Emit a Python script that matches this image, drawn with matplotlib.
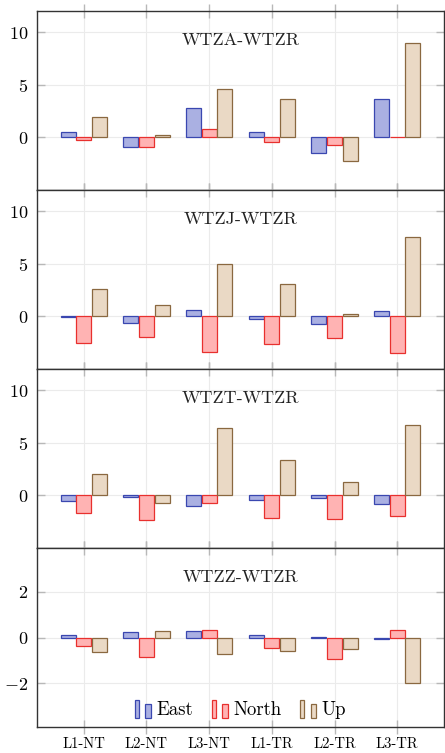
import matplotlib
matplotlib.use("Agg")
import matplotlib.pyplot as plt
import numpy as np
from matplotlib.patches import Rectangle
from matplotlib.legend_handler import HandlerBase

plt.rcParams['font.family'] = 'serif'
plt.rcParams['font.serif'] = ['cmr10', 'DejaVu Serif']
plt.rcParams['mathtext.fontset'] = 'cm'
plt.rcParams['axes.formatter.use_mathtext'] = True

categories = ["L1-NT", "L2-NT", "L3-NT", "L1-TR", "L2-TR", "L3-TR"]
panel_titles = ["WTZA-WTZR", "WTZJ-WTZR", "WTZT-WTZR", "WTZZ-WTZR"]

east_wtza = [0.51, -0.95, 2.78, 0.50, -1.49, 3.64]
north_wtza = [-0.25, -0.92, 0.76, -0.50, -0.79, -0.03]
up_wtza = [1.90, 0.16, 4.59, 3.67, -2.28, 8.96]

east_wtzj = [-0.10, -0.63, 0.60, -0.25, -0.72, 0.50]
north_wtzj = [-2.52, -1.95, -3.36, -2.67, -2.08, -3.52]
up_wtzj = [2.61, 1.07, 4.94, 3.11, 0.22, 7.58]

east_wtzt = [-0.50, -0.16, -1.04, -0.47, -0.28, -0.82]
north_wtzt = [-1.70, -2.33, -0.72, -2.17, -2.23, -2.01]
up_wtzt = [2.08, -0.72, 6.42, 3.40, 1.29, 6.67]

east_wtzz = [0.13, 0.23, 0.28, 0.13, 0.04, -0.06]
north_wtzz = [-0.35, -0.83, 0.35, -0.44, -0.92, 0.35]
up_wtzz = [-0.63, 0.31, -0.70, -0.57, -0.48, -2.00]

series_names = ["East", "North", "Up"]
panels = [
    (east_wtza, north_wtza, up_wtza),
    (east_wtzj, north_wtzj, up_wtzj),
    (east_wtzt, north_wtzt, up_wtzt),
    (east_wtzz, north_wtzz, up_wtzz),
]
ylims = [(-5, 12), (-5, 12), (-5, 12), (-3.9, 3.9)]
yticks = [[0, 5, 10], [0, 5, 10], [0, 5, 10], [-2, 0, 2]]

face_colors = ["#aab0e2", "#ffb3b3", "#ead9c5"]
edge_colors = ["#3a47b0", "#e8302e", "#8a6840"]
offsets = [-0.25, 0.0, 0.25]
bar_w = 0.24


class TwoBarHandler(HandlerBase):
    def create_artists(self, legend, orig_handle, xdescent, ydescent,
                       width, height, fontsize, trans):
        fc = orig_handle.get_facecolor()
        ec = orig_handle.get_edgecolor()
        x0 = -xdescent
        y0 = -ydescent - 0.2 * height
        h = height * 1.4
        r1 = Rectangle((x0, y0), width * 0.25, h, facecolor=fc, edgecolor=ec,
                       linewidth=0.9, transform=trans)
        r2 = Rectangle((x0 + width * 0.62, y0), width * 0.33, h * 0.78,
                       facecolor=fc, edgecolor=ec, linewidth=0.9, transform=trans)
        return [r1, r2]


W, H = 445, 753
fig = plt.figure(figsize=(W / 100, H / 100), dpi=100)
tops = [11, 190.3, 369.3, 548.3]
ph = 178.6
left = 36.7
right = 444.3
x = np.arange(len(categories))

axes = []
for i, (data, top) in enumerate(zip(panels, tops)):
    ax = fig.add_axes([left / W, 1 - (top + ph) / H, (right - left) / W, ph / H])
    axes.append(ax)
    ax.set_axisbelow(True)
    ax.grid(True, color="#ebebeb", linewidth=0.8)
    handles = []
    for j, vals in enumerate(data):
        b = ax.bar(x + offsets[j], vals, width=bar_w, color=face_colors[j],
                   edgecolor=edge_colors[j], linewidth=0.9, label=series_names[j],
                   zorder=3)
        handles.append(b.patches[0])
    ax.set_xlim(-0.75, 5.75)
    ax.set_ylim(*ylims[i])
    ax.set_yticks(yticks[i])
    ax.set_xticks(x)
    ax.tick_params(axis='y', direction='in', length=5.5, color="#b8b8b8",
                   labelsize=13, left=True, right=True, width=1.0, pad=6)
    ax.tick_params(axis='x', direction='inout', length=10, color="#b8b8b8",
                   top=True, bottom=True, width=1.0, labelsize=10.5, pad=2.5)
    if i < 3:
        ax.tick_params(axis='x', labelbottom=False)
    else:
        ax.set_xticklabels(categories)
    for s in ax.spines.values():
        s.set_color("#333333")
        s.set_linewidth(1.0)
    ax.text(0.5, 0.838, panel_titles[i], transform=ax.transAxes,
            ha='center', va='center', fontsize=13, color="#222222")
    if i == 3:
        leg = ax.legend(handles, series_names, loc='center', ncol=3,
                        bbox_to_anchor=(0.5, 0.093), frameon=False,
                        fontsize=13.5, handlelength=0.9, handletextpad=0.25,
                        columnspacing=1.0,
                        handler_map={Rectangle: TwoBarHandler()})

fig.savefig("out.png", dpi=100)
